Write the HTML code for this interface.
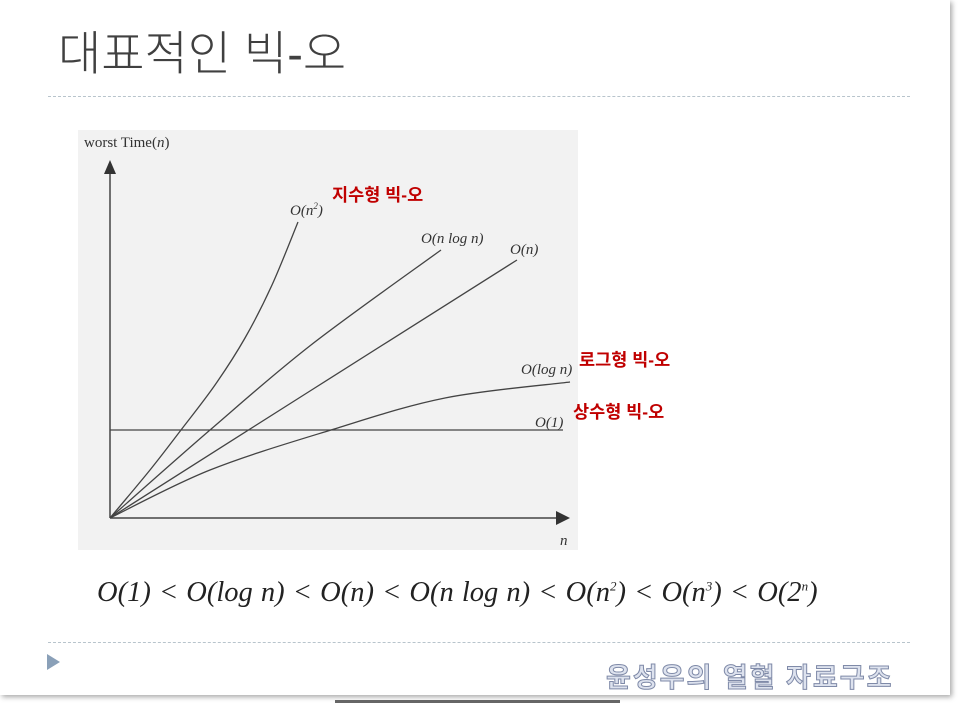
<!DOCTYPE html>
<html><head><meta charset="utf-8"><style>
body{margin:0;width:960px;height:703px;overflow:hidden;background:#fff;font-family:"Liberation Sans","Noto Sans CJK KR",sans-serif;position:relative}
.t{position:absolute}
</style></head><body>
<div class="t" style="left:0;top:0;width:950px;height:695px;box-shadow:2px 2px 5px rgba(0,0,0,0.35);"></div>
<div class="t" style="left:58px;top:15px;font-size:47px;color:#404040;font-weight:300">대표적인 빅-오</div>
<div class="t" style="left:48px;top:96px;width:862px;border-top:1px dashed #b8c4cc;"></div>
<svg class="t" style="left:0;top:0" width="960" height="703">
<rect x="78" y="130" width="500" height="420" fill="#f2f2f2"/>
<g id="marks" stroke="#444" stroke-width="1.3" fill="none"></g>
<line x1="110" y1="518" x2="110" y2="172" stroke="#444" stroke-width="1.5"/>
<polygon points="104,174 116,174 110,160" fill="#333"/>
<line x1="110" y1="518" x2="558" y2="518" stroke="#444" stroke-width="1.5"/>
<polygon points="556,511 556,525 570,518" fill="#333"/>
<g font-family="Liberation Serif,serif" font-size="15" fill="#333">
<text x="84" y="147">worst Time(<tspan font-style="italic">n</tspan>)</text>
<text x="560" y="545" font-style="italic">n</text>
<text x="290" y="215" font-style="italic">O(n<tspan font-size="9" dy="-6">2</tspan><tspan dy="6">)</tspan></text>
<text x="421" y="243" font-style="italic">O(n log n)</text>
<text x="510" y="254" font-style="italic">O(n)</text>
<text x="521" y="374" font-style="italic">O(log n)</text>
<text x="535" y="427" font-style="italic">O(1)</text>
</g>
<g font-size="17.5" font-weight="bold" fill="#c00000" font-family="Liberation Sans,Noto Sans CJK KR,sans-serif">
<text x="332" y="201">지수형 빅-오</text>
<text x="579" y="366">로그형 빅-오</text>
<text x="573" y="418">상수형 빅-오</text>
</g>
</svg>
<div class="t" style="left:97px;top:577px;font-family:'Liberation Serif',serif;font-style:italic;font-size:28.5px;color:#222;white-space:nowrap;word-spacing:1px">O(1) &lt; O(log n) &lt; O(n) &lt; O(n log n) &lt; O(n<sup style="font-size:13px">2</sup>) &lt; O(n<sup style="font-size:13px">3</sup>) &lt; O(2<sup style="font-size:13px">n</sup>)</div>
<div class="t" style="left:48px;top:642px;width:862px;border-top:1px dashed #b8c4cc;"></div>
<div class="t" style="left:47px;top:654px;width:0;height:0;border-left:13px solid #8aa0b8;border-top:8px solid transparent;border-bottom:8px solid transparent;"></div>
<div class="t" style="left:606px;top:656px;font-size:27px;font-weight:bold;color:#dde2ee;-webkit-text-stroke:1px #7f8aa8;letter-spacing:2px;white-space:nowrap">윤성우의 열혈 자료구조</div>
<div class="t" style="left:335px;top:700px;width:285px;height:3px;background:#666;"></div>
<script>
const x0=110,y0=518;
const seriesNames=['n2','nlogn','n','logn','const'];
const xN2=[0,40,71,105,135,162,188];const yN2=[0,48,88,133,180,233,296];
const xNlogN=[0,100,201,331];const yNlogN=[0,88,173,268];
const xN=[0,200,407];const yN=[0,127,258];
const xLogN=[0,100,221,335,460];const yLogN=[0,48,88,120,136];
const xConst=[0,453];const yConst=[88,88];
function sx(v){return x0+v;}
function sy(v){return y0-v;}
function path(xs,ys){
 const p=xs.map((v,i)=>[sx(v),sy(ys[i])]);
 let d='M'+p[0][0]+','+p[0][1];
 for(let i=0;i<p.length-1;i++){
  const a=p[i-1]||p[i],b=p[i],c=p[i+1],e=p[i+2]||c;
  const c1=[b[0]+(c[0]-a[0])/6,b[1]+(c[1]-a[1])/6],c2=[c[0]-(e[0]-b[0])/6,c[1]-(e[1]-b[1])/6];
  d+=' C'+c1+' '+c2+' '+c;
 }
 return d;
}
const g=document.getElementById('marks');
[[xN2,yN2],[xNlogN,yNlogN],[xN,yN],[xLogN,yLogN],[xConst,yConst]].forEach((s,i)=>{
 const el=document.createElementNS('http://www.w3.org/2000/svg','path');
 el.setAttribute('d',path(s[0],s[1]));
 
 
 g.appendChild(el);
});
</script>
</body></html>
